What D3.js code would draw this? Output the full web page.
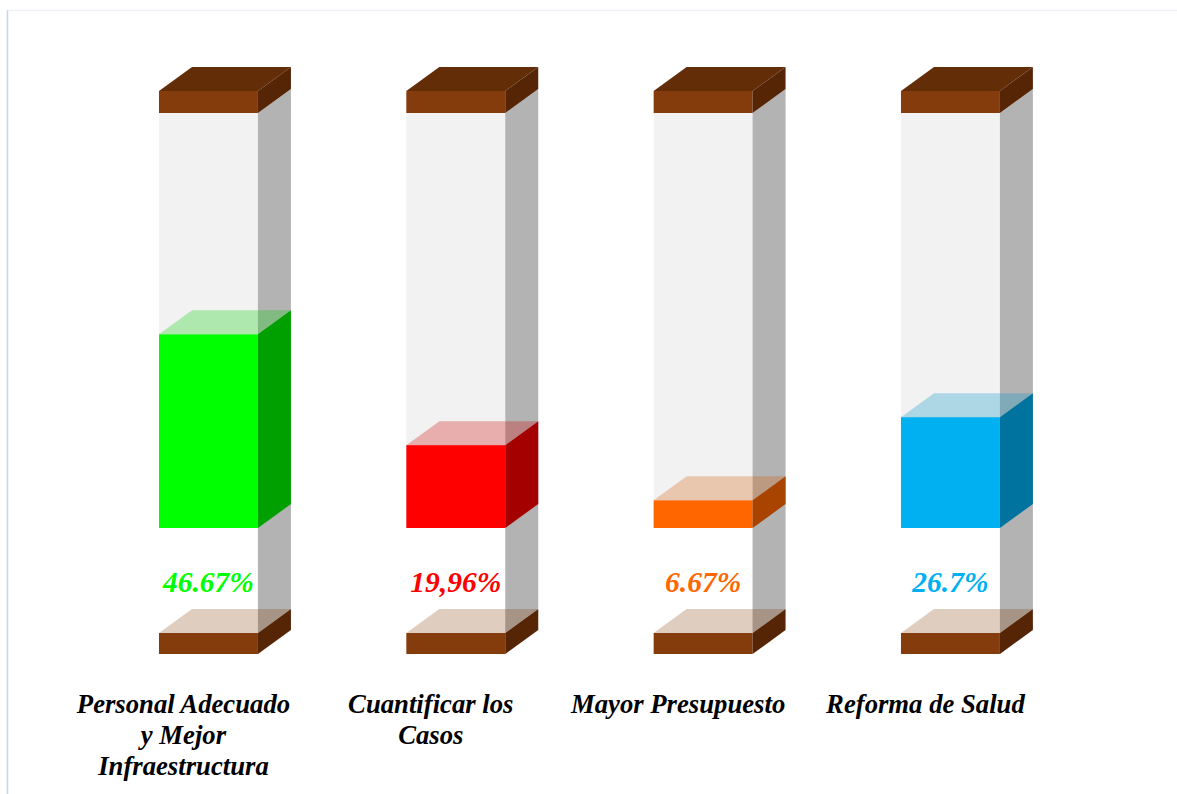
<!DOCTYPE html>
<meta charset="utf-8">
<body>
<style>
body {
  margin: 0;
  background: #fff;
}
.pct {
  font: italic bold 29.5px "Liberation Serif", "Times New Roman", serif;
  text-anchor: middle;
}
.cat {
  font: italic bold 26.7px "Liberation Serif", "Times New Roman", serif;
  text-anchor: middle;
  fill: #000;
}
</style>
<script src="https://d3js.org/d3.v7.min.js"></script>
<script>

// data
var categories = ["Personal Adecuado y Mejor Infraestructura", "Cuantificar los Casos", "Mayor Presupuesto", "Reforma de Salud"];
var values = [46.67, 19.96, 6.67, 26.7];
var valueLabels = ["46.67%", "19,96%", "6.67%", "26.7%"];
var frontColors = ["#00ff00", "#ff0000", "#ff6600", "#00b0f0"];
var sideColors = ["#00a000", "#a50000", "#a84300", "#00739f"];

var width = 1177,
    height = 794;

var dx = 33, dy = 24;       // 3d depth offset
var capH = 22;

var svg = d3.select("body").append("svg")
    .attr("width", width)
    .attr("height", height);

// frame lines
svg.append("line").attr("x1", 8).attr("x2", width).attr("y1", 10.5).attr("y2", 10.5)
    .attr("stroke", "#eef0f8").attr("stroke-width", 1.5);
svg.append("line").attr("x1", 7.5).attr("x2", 7.5).attr("y1", 10).attr("y2", height)
    .attr("stroke", "#c6d4ee").attr("stroke-width", 1.5);

var x = d3.scaleBand()
    .domain(categories)
    .range([84.8, 1074.1])
    .paddingInner(0.6)
    .paddingOuter(0.3);

var y = d3.scaleLinear()
    .domain([0, 100])
    .range([528, 113]);

var bw = x.bandwidth();
var topCapY = y(100) - capH;     // 91
var botCapY = 633;

function poly(pts) {
  return "M" + pts.map(function(p) { return p[0] + "," + p[1]; }).join("L") + "Z";
}

var data = categories.map(function(c, i) {
  return {cat: c, value: values[i], label: valueLabels[i], front: frontColors[i], side: sideColors[i]};
});

var col = svg.selectAll("g.col")
  .data(data)
  .enter().append("g")
    .attr("class", "col");

// glass front
col.append("rect")
    .attr("x", function(d) { return x(d.cat); })
    .attr("y", y(100))
    .attr("width", bw)
    .attr("height", y(0) - y(100))
    .attr("fill", "#f2f2f2");

// glass side
col.append("path")
    .attr("d", function(d) {
      var x1 = x(d.cat) + bw;
      return poly([[x1, y(100)], [x1 + dx, y(100) - dy], [x1 + dx, botCapY - dy], [x1, botCapY]]);
    })
    .attr("fill", "#b3b3b3");

// bottom cap front + side
col.append("rect")
    .attr("x", function(d) { return x(d.cat); })
    .attr("y", botCapY)
    .attr("width", bw)
    .attr("height", 21)
    .attr("fill", "#843c0c");
col.append("path")
    .attr("d", function(d) {
      var x1 = x(d.cat) + bw;
      return poly([[x1, botCapY], [x1 + dx, botCapY - dy], [x1 + dx, botCapY - dy + 21], [x1, botCapY + 21]]);
    })
    .attr("fill", "#552506");

// bar front
col.append("rect")
    .attr("x", function(d) { return x(d.cat); })
    .attr("y", function(d) { return y(d.value); })
    .attr("width", bw)
    .attr("height", function(d) { return y(0) - y(d.value); })
    .attr("fill", function(d) { return d.front; });

// bar side
col.append("path")
    .attr("d", function(d) {
      var x1 = x(d.cat) + bw, t = y(d.value), b = y(0);
      return poly([[x1, t], [x1 + dx, t - dy], [x1 + dx, b - dy], [x1, b]]);
    })
    .attr("fill", function(d) { return d.side; });

// bar top (translucent)
col.append("path")
    .attr("d", function(d) {
      var x0 = x(d.cat), t = y(d.value);
      return poly([[x0, t], [x0 + bw, t], [x0 + bw + dx, t - dy], [x0 + dx, t - dy]]);
    })
    .attr("fill", function(d) { return d3.interpolateRgb(d.front, d.side)(0.5); })
    .attr("fill-opacity", 0.28);

// bottom cap top (translucent)
col.append("path")
    .attr("d", function(d) {
      var x0 = x(d.cat);
      return poly([[x0, botCapY], [x0 + bw, botCapY], [x0 + bw + dx, botCapY - dy], [x0 + dx, botCapY - dy]]);
    })
    .attr("fill", "#843c0c")
    .attr("fill-opacity", 0.26);

// top cap
col.append("rect")
    .attr("x", function(d) { return x(d.cat); })
    .attr("y", topCapY)
    .attr("width", bw)
    .attr("height", capH)
    .attr("fill", "#843c0c");
col.append("path")
    .attr("d", function(d) {
      var x0 = x(d.cat);
      return poly([[x0, topCapY], [x0 + bw, topCapY], [x0 + bw + dx, topCapY - dy], [x0 + dx, topCapY - dy]]);
    })
    .attr("fill", "#632d08");
col.append("path")
    .attr("d", function(d) {
      var x1 = x(d.cat) + bw;
      return poly([[x1, topCapY], [x1 + dx, topCapY - dy], [x1 + dx, topCapY - dy + capH], [x1, topCapY + capH]]);
    })
    .attr("fill", "#552506");

// value labels
col.append("text")
    .attr("class", "pct")
    .attr("x", function(d) { return x(d.cat) + bw / 2; })
    .attr("y", 592)
    .attr("fill", function(d) { return d.front; })
    .text(function(d) { return d.label; });

// category labels, wrapped
col.append("text")
    .attr("class", "cat")
    .attr("x", function(d) { return x(d.cat) + bw / 2 - 25; })
    .attr("y", 713)
    .each(function(d) {
      var t = d3.select(this), cx = +t.attr("x");
      var words = d.cat.split(" "), line = [];
      var tspan = t.append("tspan").attr("x", cx).attr("dy", 0);
      words.forEach(function(w) {
        line.push(w);
        tspan.text(line.join(" "));
        if (tspan.node().getComputedTextLength() > 228 && line.length > 1) {
          line.pop();
          tspan.text(line.join(" "));
          line = [w];
          tspan = t.append("tspan").attr("x", cx).attr("dy", 31).text(w);
        }
      });
    });

</script>
</body>
